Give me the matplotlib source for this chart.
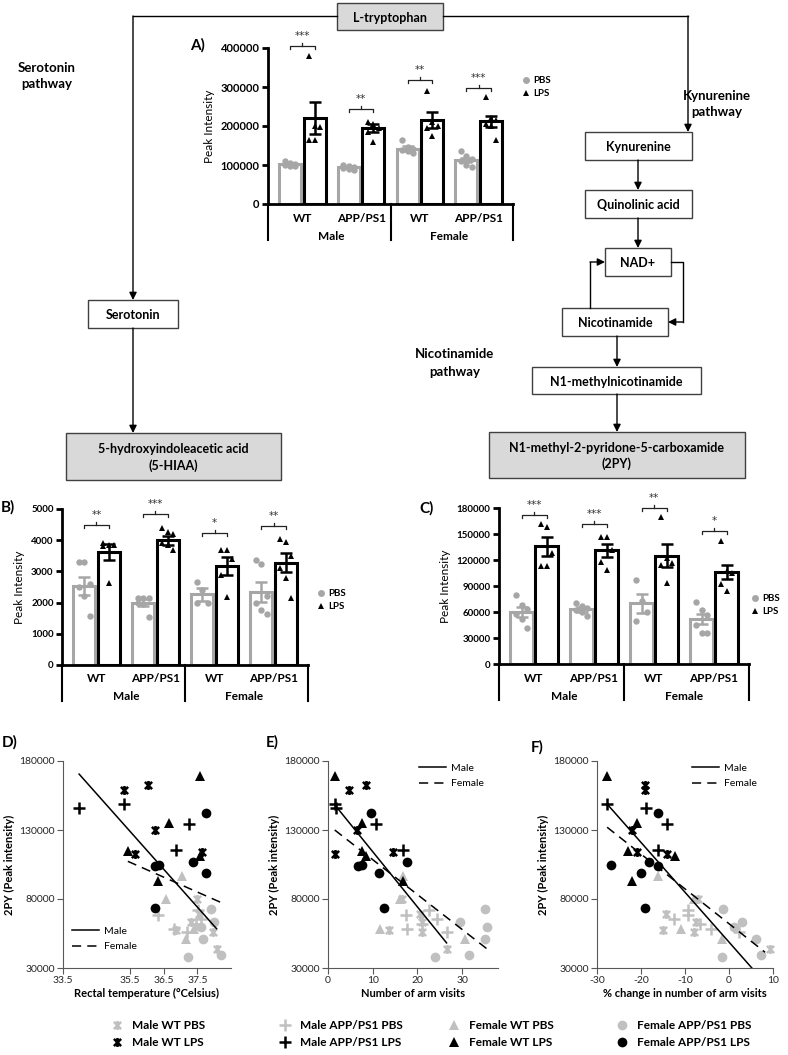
import numpy as np
import matplotlib.pyplot as plt
import matplotlib.transforms as mtransforms
from matplotlib.lines import Line2D
from matplotlib.patches import Rectangle
from matplotlib.path import Path

# ---- bar charts: groups ----
genotypes = ['WT', 'APP/PS1', 'WT', 'APP/PS1']
sexes = ['Male', 'Female']

# A) L-tryptophan
trp_pbs_mean = [102000, 94000, 142000, 113000]
trp_pbs_sem = [3000, 2500, 7000, 6000]
trp_lps_mean = [221000, 194000, 216000, 212000]
trp_lps_sem = [41000, 10000, 20000, 14000]
trp_pbs_pts = [[110000, 105000, 103000, 100000, 98000, 97000],
               [100000, 97000, 95000, 93000, 90000, 88000],
               [165000, 145000, 140000, 138000, 135000, 130000],
               [135000, 122000, 115000, 110000, 100000, 95000]]
trp_lps_pts = [[380000, 200000, 197000, 165000, 163000],
               [210000, 205000, 195000, 185000, 160000],
               [290000, 210000, 200000, 195000, 175000],
               [275000, 220000, 215000, 205000, 200000, 165000]]
trp_sig = ['***', '**', '**', '***']
trp_sig_y = [405000, 244000, 318000, 297000]

# B) 5-HIAA
hiaa_pbs_mean = [2540, 2000, 2260, 2340]
hiaa_pbs_sem = [290, 110, 200, 310]
hiaa_lps_mean = [3620, 4000, 3170, 3280]
hiaa_lps_sem = [250, 150, 300, 300]
hiaa_pbs_pts = [[3300, 3300, 2600, 2500, 2200, 1580],
                [2150, 2150, 2150, 2000, 1950, 1550],
                [2650, 2400, 2000, 2000],
                [3350, 3250, 2200, 2000, 1750, 1650]]
hiaa_lps_pts = [[3900, 3850, 3850, 3800, 2620],
                [4400, 4250, 4200, 3900, 3850, 3700],
                [3700, 3700, 3400, 2880, 2180],
                [4050, 3950, 3500, 3100, 2800, 2150]]
hiaa_sig = ['**', '***', '*', '**']
hiaa_sig_y = [4490, 4850, 4230, 4440]

# C) 2PY
py_pbs_mean = [60000, 63000, 70000, 52000]
py_pbs_sem = [6000, 3000, 11000, 6000]
py_lps_mean = [136000, 131000, 125000, 106000]
py_lps_sem = [11000, 8000, 13000, 8000]
py_pbs_pts = [[80000, 68000, 63000, 58000, 52000, 42000],
              [70000, 67000, 65000, 62000, 60000, 55000],
              [97000, 73000, 60000, 50000],
              [72000, 62000, 57000, 45000, 36000, 36000]]
py_lps_pts = [[162000, 158000, 128000, 113000, 113000],
              [147000, 147000, 132000, 118000, 109000],
              [170000, 122000, 116000, 114000, 93000],
              [142000, 107000, 105000, 92000, 84000]]
py_sig = ['***', '***', '**', '*']
py_sig_y = [172000, 162000, 180000, 153000]

# ---- correlations D-F: 2PY per animal ----
py_mwt_pbs = [80000, 69000, 63000, 57800, 56200, 44100]
py_mapp_pbs = [72000, 68500, 65200, 61800, 58400, 56300]
py_fwt_pbs = [96600, 80000, 58400, 50900]
py_fapp_pbs = [72800, 63000, 59600, 50700, 39100, 38000]
py_mwt_lps = [162500, 159000, 130000, 114000, 112500]
py_mapp_lps = [148500, 145800, 134000, 115500]
py_fwt_lps = [169000, 135000, 114600, 111200, 92900]
py_fapp_lps = [142000, 107000, 105000, 104000, 98700, 73700]

# D) rectal temperature
temp_mwt_pbs = [37.49, 37.55, 37.30, 36.85, 37.97, 38.07]
temp_mapp_pbs = [37.53, 36.33, 37.60, 37.45, 36.81, 37.20]
temp_fwt_pbs = [37.04, 36.56, 37.40, 37.15]
temp_fapp_pbs = [37.90, 38.00, 37.60, 37.67, 38.20, 37.23]
temp_mwt_lps = [36.03, 35.33, 36.23, 37.64, 35.63]
temp_mapp_lps = [35.33, 33.98, 37.26, 36.86]
temp_fwt_lps = [37.57, 36.66, 35.43, 37.58, 36.33]
temp_fapp_lps = [37.76, 37.36, 36.37, 36.23, 37.76, 36.23]
temp_male_fit = ([33.98, 38.07], [170500, 58500])
temp_female_fit = ([35.43, 38.2], [107300, 77500])

# E) number of arm visits
arms_mwt_pbs = [16.5, 20.5, 21.0, 13.7, 21.0, 26.5]
arms_mapp_pbs = [22.6, 17.5, 24.4, 21.0, 17.7, 26.5]
arms_fwt_pbs = [16.7, 16.0, 11.7, 30.7]
arms_fapp_pbs = [35.0, 29.5, 35.6, 35.0, 31.6, 24.0]
arms_mwt_lps = [8.5, 4.6, 6.4, 14.5, 1.5]
arms_mapp_lps = [1.6, 1.7, 10.7, 16.7]
arms_fwt_lps = [1.6, 7.7, 7.6, 8.5, 16.7]
arms_fapp_lps = [9.6, 17.6, 7.7, 6.6, 11.5, 12.6]
arms_male_fit = ([1.5, 26.5], [148300, 48200])
arms_female_fit = ([1.5, 35.6], [130000, 43700])

# F) % change in number of arm visits
change_mwt_pbs = [-7.0, -14.4, -7.5, -15.1, -8.0, 9.3]
change_mapp_pbs = [-9.3, -9.3, -12.5, -6.5, -4.0, 2.2]
change_fwt_pbs = [-16.2, -8.0, -11.0, -1.6]
change_fapp_pbs = [-1.4, 3.0, 1.1, 6.1, 7.3, -1.6]
change_mwt_lps = [-19.1, -19.1, -22.0, -21.0, -14.2]
change_mapp_lps = [-27.7, -18.9, -14.2, -16.2]
change_fwt_lps = [-27.7, -21.0, -23.0, -12.3, -22.0]
change_fapp_lps = [-16.2, -18.1, -26.8, -16.2, -20.0, -19.1]
change_male_fit = ([-27.7, 5.2], [148800, 30000])
change_female_fit = ([-27.7, 8.2], [132000, 41400])

legend_labels = ['Male WT PBS', 'Male WT LPS', 'Male APP/PS1 PBS', 'Male APP/PS1 LPS',
                 'Female WT PBS', 'Female WT LPS', 'Female APP/PS1 PBS', 'Female APP/PS1 LPS']

W, H = 788, 1055
GREY = '#a6a6a6'
LGREY = '#c0c0c0'

plt.rcParams['font.family'] = ['Lato', 'DejaVu Sans']
plt.rcParams['axes.unicode_minus'] = False

fig = plt.figure(figsize=(W / 100, H / 100), dpi=100)

# background axes in pixel coordinates for the pathway diagram
bg = fig.add_axes([0, 0, 1, 1])
bg.set_xlim(0, W)
bg.set_ylim(H, 0)
bg.axis('off')


def box(x0, y0, x1, y1, text, fill='white'):
    bg.add_patch(Rectangle((x0, y0), x1 - x0, y1 - y0, facecolor=fill,
                           edgecolor='#404040', lw=1))
    bg.text((x0 + x1) / 2, (y0 + y1) / 2 + 1, text, ha='center', va='center',
            fontsize=9, fontweight='bold', linespacing=1.35)


def arrow(pts):
    xs, ys = zip(*pts)
    if len(pts) > 2:
        bg.plot(xs[:-1], ys[:-1], color='black', lw=1)
    bg.annotate('', xy=pts[-1], xytext=pts[-2],
                arrowprops=dict(arrowstyle='-|>', color='black', lw=1,
                                mutation_scale=11, shrinkA=0, shrinkB=0))


box(337, 3, 443, 30, 'L-tryptophan', fill='#d9d9d9')
bg.plot([443, 688], [16, 16], color='black', lw=1)
arrow([(337, 16), (133, 16), (133, 300)])
arrow([(688, 16), (688, 132)])
box(88, 300, 178, 328, 'Serotonin')
arrow([(133, 328), (133, 433)])
box(66, 433, 281, 480, '5-hydroxyindoleacetic acid\n(5-HIAA)', fill='#d9d9d9')
bg.text(47, 76, 'Serotonin\npathway', ha='center', va='center', fontsize=9.5,
        fontweight='bold', linespacing=1.5)
bg.text(717, 104, 'Kynurenine\npathway', ha='center', va='center', fontsize=9.5,
        fontweight='bold', linespacing=1.5)
bg.text(455, 363, 'Nicotinamide\npathway', ha='center', va='center', fontsize=9.5,
        fontweight='bold', linespacing=1.5)

box(585, 132, 692, 160, 'Kynurenine')
arrow([(638, 160), (638, 190)])
box(585, 190, 692, 218, 'Quinolinic acid')
arrow([(638, 218), (638, 248)])
box(605, 248, 671, 276, 'NAD+')
arrow([(671, 262), (683, 262), (683, 322), (668, 322)])
arrow([(590, 308), (590, 262), (605, 262)])
box(562, 308, 668, 336, 'Nicotinamide')
arrow([(617, 336), (617, 367)])
box(532, 367, 701, 394, 'N1-methylnicotinamide')
arrow([(617, 394), (617, 432)])
box(489, 432, 745, 478, 'N1-methyl-2-pyridone-5-carboxamide\n(2PY)', fill='#d9d9d9')

for lab, x, y in [('A)', 198, 45), ('B)', 8, 507), ('C)', 427, 508),
                  ('D)', 10, 742), ('E)', 272, 742), ('F)', 537, 747)]:
    bg.text(x, y, lab, ha='center', va='center', fontsize=11, fontweight='bold')


def add_ax(l, t, r, b):
    return fig.add_axes([l / W, 1 - b / H, (r - l) / W, (b - t) / H])


def bar_panel(ax, pm, ps, pp, lm, ls, lp, sig, sig_y, ymax, ystep, tfs):
    h_px = ax.get_position().height * H
    per_px = ymax / h_px
    px = 0.9 + 2.4 * np.arange(4)
    lx = px + 1.0
    ax.bar(px, pm, width=0.9, color='white', edgecolor=GREY, lw=2.2, zorder=2)
    ax.bar(lx, lm, width=0.9, color='white', edgecolor='black', lw=2.2, zorder=2)
    for i in range(4):
        off = ((np.arange(len(pp[i])) % 3) - 1) * 0.22
        ax.plot(px[i] + off, pp[i], 'o', color=GREY, ms=4.6, mew=0, zorder=3, clip_on=False)
        off = ((np.arange(len(lp[i])) % 3) - 1) * 0.22
        ax.plot(lx[i] + off, lp[i], '^', color='black', ms=4.6, mew=0, zorder=3, clip_on=False)
    ax.errorbar(px, pm, yerr=ps, fmt='none', ecolor=GREY, elinewidth=1.8,
                capsize=4.5, capthick=1.8, zorder=4)
    ax.errorbar(lx, lm, yerr=ls, fmt='none', ecolor='black', elinewidth=1.8,
                capsize=4.5, capthick=1.8, zorder=4)
    for i in range(4):
        y = sig_y[i]
        ax.plot([px[i], px[i], lx[i], lx[i]], [y - 3 * per_px, y, y, y - 3 * per_px],
                color='#222222', lw=0.9, clip_on=False)
        mid = (px[i] + lx[i]) / 2
        ax.plot([mid, mid], [y, y + 3 * per_px], color='#222222', lw=0.9, clip_on=False)
        ax.text(mid, y + 10 * per_px, sig[i], ha='center', va='center',
                fontsize=7.5, color='#333333', family='DejaVu Sans')
    ax.set_xlim(0, 10)
    ax.set_ylim(0, ymax)
    ax.set_yticks(np.arange(0, ymax + 1, ystep))
    ax.set_xticks([])
    ax.set_facecolor('none')
    for s in ['top', 'right']:
        ax.spines[s].set_visible(False)
    for s in ['left', 'bottom']:
        ax.spines[s].set_linewidth(2)
    ax.tick_params(axis='y', width=2, length=4, labelsize=tfs, pad=2)
    for t in ax.get_yticklabels():
        t.set_fontweight('bold')
    ax.set_ylabel('Peak Intensity', fontsize=8.5, labelpad=4)
    tr = mtransforms.blended_transform_factory(ax.transData, ax.transAxes)
    f = 1 / h_px
    for i, g in enumerate(genotypes):
        ax.text((px[i] + lx[i]) / 2, -14 * f, g, transform=tr, ha='center', va='center',
                fontsize=8.5, fontweight='bold')
    for j, s in enumerate(sexes):
        ax.text(2.6 + 4.8 * j, -32 * f, s, transform=tr, ha='center', va='center',
                fontsize=8.5, fontweight='bold')
    for xv in [0, 5, 10]:
        ax.plot([xv, xv], [0, -36 * f], transform=tr, color='black', lw=1.5, clip_on=False)


def bar_legend(x, y):
    hs = [Line2D([], [], marker='o', color=GREY, ls='none', ms=5, mew=0),
          Line2D([], [], marker='^', color='black', ls='none', ms=5, mew=0)]
    fig.legend(hs, ['PBS', 'LPS'], loc='center left', bbox_to_anchor=(x / W, 1 - y / H),
               frameon=False, prop={'weight': 'bold', 'size': 7}, handlelength=0.8,
               handletextpad=0.4, labelspacing=0.4, borderpad=0, borderaxespad=0)


axA = add_ax(268, 48, 513, 204)
bar_panel(axA, trp_pbs_mean, trp_pbs_sem, trp_pbs_pts, trp_lps_mean, trp_lps_sem,
          trp_lps_pts, trp_sig, trp_sig_y, 400000, 100000, 8)
bar_legend(522, 87)

axB = add_ax(62, 509, 308, 665)
bar_panel(axB, hiaa_pbs_mean, hiaa_pbs_sem, hiaa_pbs_pts, hiaa_lps_mean, hiaa_lps_sem,
          hiaa_lps_pts, hiaa_sig, hiaa_sig_y, 5000, 1000, 7)
bar_legend(317, 600)

axC = add_ax(499, 508, 749, 664)
bar_panel(axC, py_pbs_mean, py_pbs_sem, py_pbs_pts, py_lps_mean, py_lps_sem,
          py_lps_pts, py_sig, py_sig_y, 180000, 30000, 7)
bar_legend(751, 605)

# ---- scatter panels ----
STAR = Path([(-1, -1), (1, 1), (-1, 1), (1, -1), (0, -1.25), (0, 1.25)],
            [Path.MOVETO, Path.LINETO] * 3)
MARK = {'mwt': (STAR, 6.5, 1.8), 'mapp': ('+', 8, 1.8), 'fwt': ('^', 7, 0), 'fapp': ('o', 7, 0)}


def marker_kw(key, color):
    m, ms, mew = MARK[key]
    if mew:
        return dict(marker=m, ms=ms, mew=mew, color=color, mec=color, mfc='none')
    return dict(marker=m, ms=ms, mew=0, color=color, mfc=color)


def scatter_panel(ax, series, male_fit, female_fit, xlim, xticks, xlabel):
    for xs, ys, key, col in series:
        ax.plot(xs, ys, ls='none', zorder=3, clip_on=False, **marker_kw(key, col))
    ax.plot(male_fit[0], male_fit[1], color='black', lw=1.1, zorder=4)
    ax.plot(female_fit[0], female_fit[1], color='black', lw=1.1, ls=(0, (6, 4)), zorder=4)
    ax.set_xlim(*xlim)
    ax.set_ylim(30000, 180000)
    ax.set_xticks(xticks)
    ax.set_yticks([30000, 80000, 130000, 180000])
    ax.set_facecolor('none')
    for s in ['top', 'right']:
        ax.spines[s].set_visible(False)
    for s in ['left', 'bottom']:
        ax.spines[s].set_linewidth(0.8)
        ax.spines[s].set_color('#595959')
    ax.tick_params(length=4, width=0.8, color='#595959', labelsize=7.5,
                   labelcolor='#262626', pad=2)
    ax.set_xlabel(xlabel, fontsize=8, fontweight='bold', labelpad=2)
    ax.set_ylabel('2PY (Peak intensity)', fontsize=8, fontweight='bold', labelpad=3)


def fit_legend(x, y):
    hs = [Line2D([], [], color='black', lw=1.1),
          Line2D([], [], color='black', lw=1.1, ls=(0, (6, 4)))]
    fig.legend(hs, ['Male', 'Female'], loc='center left', bbox_to_anchor=(x / W, 1 - y / H),
               frameon=False, fontsize=7.5, handlelength=2.6, handletextpad=0.5,
               labelspacing=0.55, borderpad=0, borderaxespad=0)


def groups(mwt_p, mapp_p, fwt_p, fapp_p, mwt_l, mapp_l, fwt_l, fapp_l):
    return [(mwt_p, py_mwt_pbs, 'mwt', LGREY), (mapp_p, py_mapp_pbs, 'mapp', LGREY),
            (fwt_p, py_fwt_pbs, 'fwt', LGREY), (fapp_p, py_fapp_pbs, 'fapp', LGREY),
            (mwt_l, py_mwt_lps, 'mwt', 'black'), (mapp_l, py_mapp_lps, 'mapp', 'black'),
            (fwt_l, py_fwt_lps, 'fwt', 'black'), (fapp_l, py_fapp_lps, 'fapp', 'black')]


axD = add_ax(63, 761, 231, 968)
scatter_panel(axD, groups(temp_mwt_pbs, temp_mapp_pbs, temp_fwt_pbs, temp_fapp_pbs,
                          temp_mwt_lps, temp_mapp_lps, temp_fwt_lps, temp_fapp_lps),
              temp_male_fit, temp_female_fit, (33.5, 38.5), [33.5, 35.5, 36.5, 37.5],
              'Rectal temperature (°Celsius)')
fit_legend(72, 939)

axE = add_ax(328, 761, 498, 968)
scatter_panel(axE, groups(arms_mwt_pbs, arms_mapp_pbs, arms_fwt_pbs, arms_fapp_pbs,
                          arms_mwt_lps, arms_mapp_lps, arms_fwt_lps, arms_fapp_lps),
              arms_male_fit, arms_female_fit, (0, 38), [0, 10, 20, 30],
              'Number of arm visits')
fit_legend(419, 776)

axF = add_ax(597, 761, 773, 968)
scatter_panel(axF, groups(change_mwt_pbs, change_mapp_pbs, change_fwt_pbs, change_fapp_pbs,
                          change_mwt_lps, change_mapp_lps, change_fwt_lps, change_fapp_lps),
              change_male_fit, change_female_fit, (-30, 10), [-30, -20, -10, 0, 10],
              '% change in number of arm visits')
fit_legend(692, 776)

# ---- shared legend at the bottom ----
keys = ['mwt', 'mapp', 'fwt', 'fapp']
for c, xpos in enumerate([110, 278, 447, 615]):
    hs = [Line2D([], [], ls='none', **marker_kw(keys[c], LGREY)),
          Line2D([], [], ls='none', **marker_kw(keys[c], 'black'))]
    fig.legend(hs, legend_labels[2 * c:2 * c + 2], loc='center left',
               bbox_to_anchor=(xpos / W, 1 - 1034 / H), frameon=False,
               prop={'weight': 'bold', 'size': 8.5}, handlelength=1.2,
               handletextpad=0.7, labelspacing=0.55, borderpad=0, borderaxespad=0)

fig.savefig('out.png', dpi=100)
